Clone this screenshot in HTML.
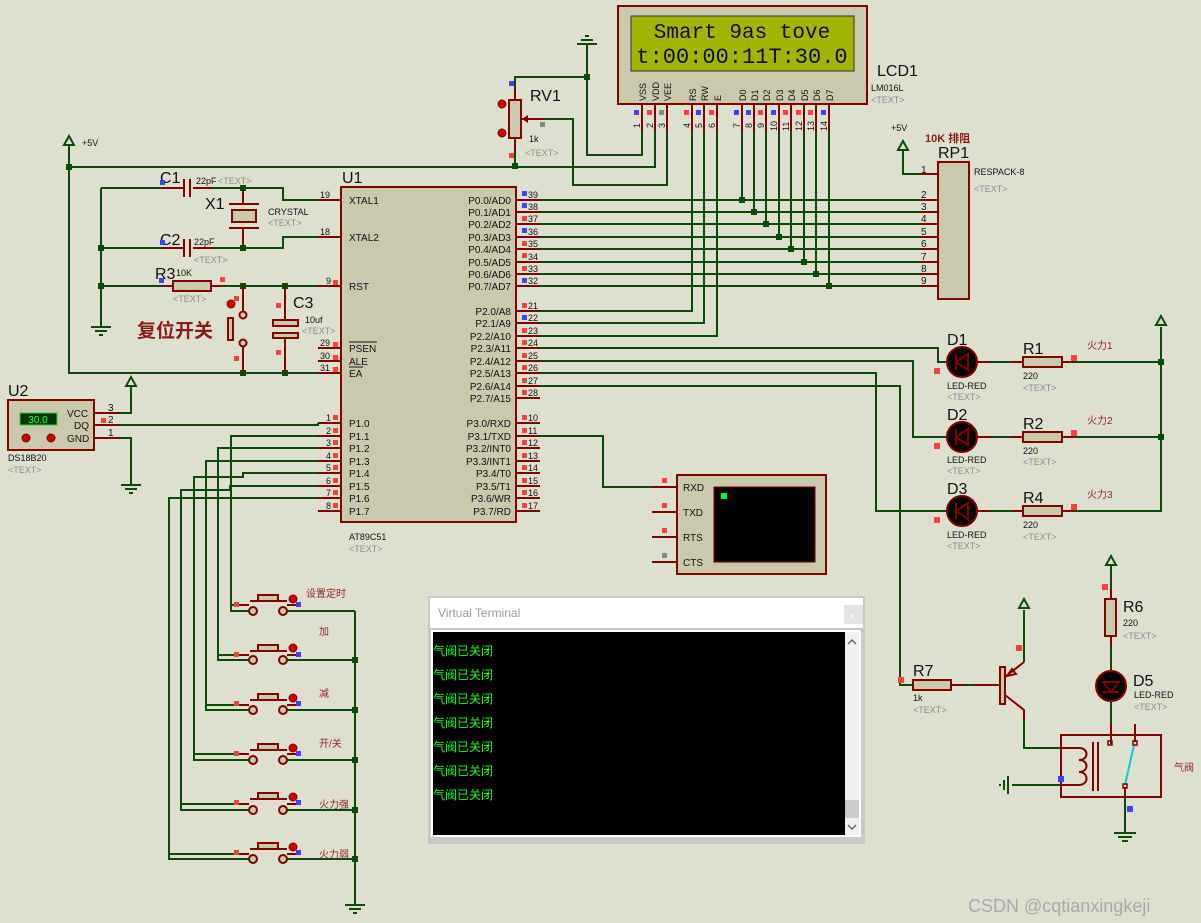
<!DOCTYPE html>
<html><head><meta charset="utf-8"><style>
html,body{margin:0;padding:0;background:#dfdfd0;}
svg{display:block;font-family:"Liberation Sans","Noto Sans CJK SC",sans-serif;}
.w{stroke:#0c4a0c;stroke-width:2;fill:none;}
.p{stroke:#800000;stroke-width:2;fill:none;}
.b{stroke:#800000;stroke-width:2;fill:#c9c9ad;}
.t{font-size:10px;fill:#111;}
.g{font-size:9px;fill:#8c8c8c;}
.L{font-size:16px;fill:#111;}
.n{font-size:10px;fill:#111;}
.cn{font-size:10px;fill:#8b2a2a;font-family:"Liberation Sans","Noto Sans CJK SC",sans-serif;}
.j{fill:#0c4a0c;}
.r{fill:#ff4040;}
.bl{fill:#4040ff;}
</style></head><body>
<svg width="1201" height="923" viewBox="0 0 1201 923" xmlns="http://www.w3.org/2000/svg">
<rect width="1201" height="923" fill="#dfdfd0"/>

<!-- LCD -->
<rect x="618" y="6" width="249" height="98" class="b"/>
<rect x="631" y="16" width="223" height="55" fill="#a3b400" stroke="#333" stroke-width="1"/>
<text x="742" y="38" font-family="Liberation Mono,monospace" font-size="21" text-anchor="middle" fill="#111">Smart 9as tove</text>
<text x="742" y="63" font-family="Liberation Mono,monospace" font-size="22" text-anchor="middle" fill="#111">t:00:00:11T:30.0</text>
<g font-size="9" fill="#111">
<text transform="translate(646,101) rotate(-90)">VSS</text>
<text transform="translate(659,101) rotate(-90)">VDD</text>
<text transform="translate(671,101) rotate(-90)">VEE</text>
<text transform="translate(696,101) rotate(-90)">RS</text>
<text transform="translate(708,101) rotate(-90)">RW</text>
<text transform="translate(721,101) rotate(-90)">E</text>
<text transform="translate(746,101) rotate(-90)">D0</text>
<text transform="translate(758,101) rotate(-90)">D1</text>
<text transform="translate(770,101) rotate(-90)">D2</text>
<text transform="translate(783,101) rotate(-90)">D3</text>
<text transform="translate(795,101) rotate(-90)">D4</text>
<text transform="translate(808,101) rotate(-90)">D5</text>
<text transform="translate(820,101) rotate(-90)">D6</text>
<text transform="translate(833,101) rotate(-90)">D7</text>
<text transform="translate(640,128) rotate(-90)">1</text>
<text transform="translate(653,128) rotate(-90)">2</text>
<text transform="translate(665,128) rotate(-90)">3</text>
<text transform="translate(690,128) rotate(-90)">4</text>
<text transform="translate(702,128) rotate(-90)">5</text>
<text transform="translate(715,128) rotate(-90)">6</text>
<text transform="translate(740,128) rotate(-90)">7</text>
<text transform="translate(752,128) rotate(-90)">8</text>
<text transform="translate(764,128) rotate(-90)">9</text>
<text transform="translate(777,131) rotate(-90)">10</text>
<text transform="translate(789,131) rotate(-90)">11</text>
<text transform="translate(802,131) rotate(-90)">12</text>
<text transform="translate(814,131) rotate(-90)">13</text>
<text transform="translate(827,131) rotate(-90)">14</text>
</g>
<path class="p" d="M642 104V131M655 104V131M667 104V131M692 104V131M704 104V131M717 104V131M742 104V131M754 104V131M766 104V131M779 104V131M791 104V131M804 104V131M816 104V131M829 104V131"/>
<g><rect x="634" y="110" width="5" height="5" class="bl"/><rect x="647" y="110" width="5" height="5" class="r"/><rect x="659" y="110" width="5" height="5" fill="#888"/><rect x="684" y="110" width="5" height="5" class="r"/><rect x="696" y="110" width="5" height="5" class="bl"/><rect x="709" y="110" width="5" height="5" class="r"/><rect x="734" y="110" width="5" height="5" class="bl"/><rect x="746" y="110" width="5" height="5" class="bl"/><rect x="758" y="110" width="5" height="5" class="r"/><rect x="771" y="110" width="5" height="5" class="bl"/><rect x="783" y="110" width="5" height="5" class="r"/><rect x="796" y="110" width="5" height="5" class="r"/><rect x="808" y="110" width="5" height="5" class="r"/><rect x="821" y="110" width="5" height="5" class="bl"/></g>
<text x="877" y="76" class="L">LCD1</text>
<text x="871" y="91" font-size="9" fill="#111">LM016L</text>
<text x="871" y="103" class="g">&lt;TEXT&gt;</text>

<!-- ground top -->
<path class="w" d="M587 77V44M577 44H597M581 40H593"/>
<path stroke="#0c4a0c" stroke-width="2" d="M585 36H589"/>

<!-- RV1 -->
<rect x="509" y="100" width="12" height="38" class="b"/>
<path class="p" d="M515 100V88M515 138V150M521 119H545"/>
<path fill="#800000" d="M522 119l6-4v8z"/>
<circle cx="502" cy="104" r="4" fill="#c00" stroke="#800"/><circle cx="502" cy="133" r="4" fill="#c00" stroke="#800"/>
<rect x="509" y="81" width="5" height="5" class="bl"/><rect x="509" y="153" width="5" height="5" class="r"/><rect x="540" y="122" width="5" height="5" fill="#888"/>
<text x="530" y="101" class="L">RV1</text>
<text x="529" y="142" font-size="9" fill="#111">1k</text>
<text x="525" y="156" class="g">&lt;TEXT&gt;</text>
<path class="w" d="M515 88V77H587M587 77V155H642V131M515 150V166M655 131V167H69M667 131V185H573V119H545"/>
<rect x="584" y="74" width="6" height="6" class="j"/><rect x="512" y="163" width="6" height="6" class="j"/>

<!-- LCD control wires -->
<path class="w" d="M692 131V311H540M704 131V323H540M717 131V336H540"/>
<!-- data bus -->
<path class="w" d="M540 200H920M540 212H920M540 224H920M540 237H920M540 249H920M540 262H920M540 274H920M540 286H920"/>
<path class="w" d="M742 131V200M754 131V212M766 131V224M779 131V237M791 131V249M804 131V262M816 131V274M829 131V286"/>
<g class="j"><rect x="739" y="197" width="6" height="6"/><rect x="751" y="209" width="6" height="6"/><rect x="763" y="221" width="6" height="6"/><rect x="776" y="234" width="6" height="6"/><rect x="788" y="246" width="6" height="6"/><rect x="801" y="259" width="6" height="6"/><rect x="813" y="271" width="6" height="6"/><rect x="826" y="283" width="6" height="6"/></g>

<!-- RP1 -->
<rect x="938" y="162" width="31" height="137" class="b"/>
<path class="p" d="M920 174H938M920 200H938M920 212H938M920 224H938M920 237H938M920 249H938M920 262H938M920 274H938M920 286H938"/>
<g font-size="10" fill="#111"><text x="921" y="173">1</text><text x="921" y="198">2</text><text x="921" y="210">3</text><text x="921" y="222">4</text><text x="921" y="235">5</text><text x="921" y="247">6</text><text x="921" y="260">7</text><text x="921" y="272">8</text><text x="921" y="284">9</text></g>
<path class="w" d="M903 151V174H920"/>
<path class="w" d="M903 141l-5 9h10z"/>
<text x="891" y="131" font-size="9" fill="#111">+5V</text>
<text x="925" y="142" font-size="11" font-weight="bold" fill="#8b1a1a">10K 排阻</text>
<text x="938" y="158" class="L">RP1</text>
<text x="974" y="175" font-size="9" fill="#111">RESPACK-8</text>
<text x="974" y="192" class="g">&lt;TEXT&gt;</text>

<!-- U1 -->
<rect x="341" y="187" width="175" height="335" class="b"/>
<text x="342" y="183" class="L">U1</text>
<text x="349" y="540" font-size="9" fill="#111">AT89C51</text>
<text x="349" y="552" class="g">&lt;TEXT&gt;</text>
<path class="p" d="M318 200H341M318 237H341M318 286H341M318 348H341M318 361H341M318 373H341M318 423H341M318 436H341M318 448H341M318 461H341M318 473H341M318 486H341M318 498H341M318 511H341"/>
<path class="p" d="M516 200H540M516 212H540M516 224H540M516 237H540M516 249H540M516 262H540M516 274H540M516 286H540M516 311H540M516 323H540M516 336H540M516 348H540M516 361H540M516 373H540M516 386H540M516 398H540M516 423H540M516 436H540M516 448H540M516 461H540M516 473H540M516 486H540M516 498H540M516 511H540"/>
<g class="n">
<text x="349" y="204">XTAL1</text><text x="349" y="241">XTAL2</text><text x="349" y="290">RST</text>
<text x="349" y="352">PSEN</text><text x="349" y="365">ALE</text><text x="349" y="377">EA</text>
<text x="349" y="427">P1.0</text><text x="349" y="440">P1.1</text><text x="349" y="452">P1.2</text><text x="349" y="465">P1.3</text><text x="349" y="477">P1.4</text><text x="349" y="490">P1.5</text><text x="349" y="502">P1.6</text><text x="349" y="515">P1.7</text>
</g>
<path stroke="#111" stroke-width="1" d="M349 342H377M349 367H363"/>
<g class="n" text-anchor="end">
<text x="511" y="204">P0.0/AD0</text><text x="511" y="216">P0.1/AD1</text><text x="511" y="228">P0.2/AD2</text><text x="511" y="241">P0.3/AD3</text><text x="511" y="253">P0.4/AD4</text><text x="511" y="266">P0.5/AD5</text><text x="511" y="278">P0.6/AD6</text><text x="511" y="290">P0.7/AD7</text>
<text x="511" y="315">P2.0/A8</text><text x="511" y="327">P2.1/A9</text><text x="511" y="340">P2.2/A10</text><text x="511" y="352">P2.3/A11</text><text x="511" y="365">P2.4/A12</text><text x="511" y="377">P2.5/A13</text><text x="511" y="390">P2.6/A14</text><text x="511" y="402">P2.7/A15</text>
<text x="511" y="427">P3.0/RXD</text><text x="511" y="440">P3.1/TXD</text><text x="511" y="452">P3.2/INT0</text><text x="511" y="465">P3.3/INT1</text><text x="511" y="477">P3.4/T0</text><text x="511" y="490">P3.5/T1</text><text x="511" y="502">P3.6/WR</text><text x="511" y="515">P3.7/RD</text>
</g>
<g font-size="9" fill="#111">
<text x="528" y="198">39</text><text x="528" y="210">38</text><text x="528" y="222">37</text><text x="528" y="235">36</text><text x="528" y="247">35</text><text x="528" y="260">34</text><text x="528" y="272">33</text><text x="528" y="284">32</text>
<text x="528" y="309">21</text><text x="528" y="321">22</text><text x="528" y="334">23</text><text x="528" y="346">24</text><text x="528" y="359">25</text><text x="528" y="371">26</text><text x="528" y="384">27</text><text x="528" y="396">28</text>
<text x="528" y="421">10</text><text x="528" y="434">11</text><text x="528" y="446">12</text><text x="528" y="459">13</text><text x="528" y="471">14</text><text x="528" y="484">15</text><text x="528" y="496">16</text><text x="528" y="509">17</text>
<text x="320" y="198">19</text><text x="320" y="235">18</text><text x="326" y="284">9</text><text x="320" y="346">29</text><text x="320" y="359">30</text><text x="320" y="371">31</text>
<text x="326" y="421">1</text><text x="326" y="434">2</text><text x="326" y="446">3</text><text x="326" y="459">4</text><text x="326" y="471">5</text><text x="326" y="484">6</text><text x="326" y="496">7</text><text x="326" y="509">8</text>
</g>
<g class="r"><rect x="522" y="191" width="5" height="5" fill="#44f"/><rect x="522" y="203" width="5" height="5" fill="#44f"/><rect x="522" y="216" width="5" height="5"/><rect x="522" y="228" width="5" height="5" fill="#44f"/><rect x="522" y="241" width="5" height="5"/><rect x="522" y="253" width="5" height="5"/><rect x="522" y="266" width="5" height="5"/><rect x="522" y="278" width="5" height="5" fill="#44f"/>
<rect x="522" y="303" width="5" height="5"/><rect x="522" y="315" width="5" height="5" fill="#44f"/><rect x="522" y="328" width="5" height="5"/><rect x="522" y="340" width="5" height="5"/><rect x="522" y="353" width="5" height="5"/><rect x="522" y="365" width="5" height="5"/><rect x="522" y="378" width="5" height="5"/><rect x="522" y="390" width="5" height="5"/>
<rect x="522" y="415" width="5" height="5"/><rect x="522" y="428" width="5" height="5"/><rect x="522" y="440" width="5" height="5"/><rect x="522" y="453" width="5" height="5"/><rect x="522" y="465" width="5" height="5"/><rect x="522" y="478" width="5" height="5"/><rect x="522" y="490" width="5" height="5"/><rect x="522" y="503" width="5" height="5"/>
<rect x="333" y="280" width="5" height="5"/><rect x="333" y="342" width="5" height="5"/><rect x="333" y="355" width="5" height="5"/><rect x="333" y="367" width="5" height="5"/>
<rect x="333" y="415" width="5" height="5"/><rect x="333" y="428" width="5" height="5"/><rect x="333" y="440" width="5" height="5"/><rect x="333" y="453" width="5" height="5"/><rect x="333" y="465" width="5" height="5"/><rect x="333" y="478" width="5" height="5"/><rect x="333" y="490" width="5" height="5"/><rect x="333" y="503" width="5" height="5"/></g>

<!-- left power / osc / reset -->
<path class="w" d="M69 145V373H318"/>
<path class="w" d="M69 136l-5 9h10z"/>
<text x="82" y="146" font-size="9" fill="#111">+5V</text>
<rect x="66" y="164" width="6" height="6" class="j"/>
<path class="w" d="M101 188V327M91 327H111M95 331H107M99 335H103"/>
<path class="w" d="M101 188H162M193 188H283V200H318M101 248H162M193 248H283V237H318M101 286H162M222 286H318"/>
<path class="p" d="M162 188H184M193 188H213M184 179V197M190 179V197M162 248H184M193 248H213M184 239V257M190 239V257"/>
<path class="p" d="M243 188V204M229 204H259M229 228H259M243 228V248"/>
<rect x="232" y="210" width="24" height="12" class="b"/>
<rect x="173" y="281" width="38" height="10" class="b"/>
<path class="p" d="M162 286H173M211 286H222"/>
<g class="j"><rect x="240" y="185" width="6" height="6"/><rect x="240" y="245" width="6" height="6"/><rect x="98" y="245" width="6" height="6"/><rect x="98" y="283" width="6" height="6"/><rect x="240" y="283" width="6" height="6"/><rect x="282" y="283" width="6" height="6"/><rect x="240" y="370" width="6" height="6"/><rect x="282" y="370" width="6" height="6"/></g>
<!-- reset switch -->
<path class="p" d="M243 286V312M243 346V373"/>
<circle cx="243" cy="315" r="3.5" fill="#c9c9ad" stroke="#800000" stroke-width="2"/>
<circle cx="243" cy="343" r="3.5" fill="#c9c9ad" stroke="#800000" stroke-width="2"/>
<rect x="228" y="318" width="5" height="22" class="b"/>
<circle cx="231" cy="304" r="4" fill="#c00" stroke="#800"/>
<rect x="234" y="296" width="5" height="5" class="r"/><rect x="234" y="356" width="5" height="5" class="r"/>
<text x="137" y="337" font-size="19" font-weight="bold" fill="#8b1a1a">复位开关</text>
<!-- C3 -->
<path class="p" d="M285 286V320M285 338V373"/>
<rect x="273" y="320" width="25" height="6" fill="#c9c9ad" stroke="#800000" stroke-width="2"/>
<rect x="273" y="333" width="25" height="5" fill="#c9c9ad" stroke="#800000" stroke-width="2"/>
<rect x="276" y="303" width="5" height="5" class="r"/><rect x="276" y="350" width="5" height="5" class="r"/>
<text x="293" y="308" class="L">C3</text><text x="305" y="323" font-size="9" fill="#111">10uf</text><text x="302" y="334" class="g">&lt;TEXT&gt;</text>
<!-- labels -->
<text x="160" y="183" class="L">C1</text><text x="196" y="184" font-size="9" fill="#111">22pF</text><text x="218" y="184" class="g">&lt;TEXT&gt;</text>
<text x="205" y="209" class="L">X1</text><text x="268" y="215" font-size="9" fill="#111">CRYSTAL</text><text x="268" y="226" class="g">&lt;TEXT&gt;</text>
<text x="160" y="245" class="L">C2</text><text x="194" y="245" font-size="9" fill="#111">22pF</text><text x="194" y="263" class="g">&lt;TEXT&gt;</text>
<text x="155" y="279" class="L">R3</text><text x="176" y="276" font-size="9" fill="#111">10K</text><text x="173" y="302" class="g">&lt;TEXT&gt;</text>
<rect x="160" y="180" width="5" height="5" class="bl"/><rect x="160" y="240" width="5" height="5" class="bl"/><rect x="159" y="278" width="5" height="5" class="bl"/><rect x="220" y="277" width="5" height="5" class="r"/>

<!-- U2 -->
<rect x="8" y="400" width="86" height="50" class="b"/>
<rect x="20" y="413" width="37" height="12" fill="#063806" stroke="#3c3" stroke-width="1"/>
<text x="38" y="423" font-size="10" fill="#3f3" text-anchor="middle">30.0</text>
<circle cx="26" cy="438" r="4" fill="#c00" stroke="#800"/><circle cx="51" cy="438" r="4" fill="#c00" stroke="#800"/>
<g font-size="10" fill="#111"><text x="67" y="417">VCC</text><text x="74" y="429">DQ</text><text x="67" y="442">GND</text>
<text x="108" y="411">3</text><text x="108" y="423">2</text><text x="108" y="436">1</text></g>
<path class="p" d="M94 413H120M94 425H120M94 438H120"/>
<rect x="101" y="418" width="5" height="5" class="r"/>
<text x="8" y="396" class="L">U2</text>
<text x="8" y="461" font-size="9" fill="#111">DS18B20</text><text x="8" y="473" class="g">&lt;TEXT&gt;</text>
<path class="w" d="M120 413H131V386M120 425H318V423M120 438H131V485M121 485H141M125 489H137M129 493H133"/>
<path class="w" d="M131 377l-5 9h10z"/>

<!-- P1 wires -->
<path class="w" d="M318 436H231V605H240M318 448H218V655H240M318 461H206V705H240M318 473H243V477H194V754H240M318 486H230V490H181V804H240M318 498H169V854H240"/>
<!-- buttons -->
<path class="p" d="M240 605H249M287 605H298M240 655H249M287 655H298M240 705H249M287 705H298M240 754H249M287 754H298M240 804H249M287 804H298M240 854H249M287 854H298"/>
<g fill="#c9c9ad" stroke="#800000" stroke-width="2">
<circle cx="253" cy="611" r="4"/><circle cx="283" cy="611" r="4"/>
<circle cx="253" cy="660" r="4"/><circle cx="283" cy="660" r="4"/>
<circle cx="253" cy="710" r="4"/><circle cx="283" cy="710" r="4"/>
<circle cx="253" cy="760" r="4"/><circle cx="283" cy="760" r="4"/>
<circle cx="253" cy="810" r="4"/><circle cx="283" cy="810" r="4"/>
<circle cx="253" cy="859" r="4"/><circle cx="283" cy="859" r="4"/>
<rect x="258" y="595" width="20" height="6"/><rect x="258" y="645" width="20" height="6"/><rect x="258" y="694" width="20" height="6"/><rect x="258" y="744" width="20" height="6"/><rect x="258" y="793" width="20" height="6"/><rect x="258" y="843" width="20" height="6"/>
</g>
<path class="p" d="M250 601H287M250 651H287M250 700H287M250 750H287M250 799H287M250 849H287"/>
<path class="w" d="M231 605V611H249M218 655V660H249M206 705V710H249M194 754V760H249M181 804V810H249M169 854V859H249M287 611H355M287 660H355M287 710H355M287 760H355M287 810H355M287 859H355M355 611V905M345 905H365M349 909H361M353 913H357"/>
<g class="j"><rect x="352" y="657" width="6" height="6"/><rect x="352" y="707" width="6" height="6"/><rect x="352" y="757" width="6" height="6"/><rect x="352" y="807" width="6" height="6"/><rect x="352" y="856" width="6" height="6"/></g>
<g fill="#c00" stroke="#800"><circle cx="293" cy="599" r="4"/><circle cx="293" cy="648" r="4"/><circle cx="293" cy="698" r="4"/><circle cx="293" cy="748" r="4"/><circle cx="293" cy="797" r="4"/><circle cx="293" cy="847" r="4"/></g>
<g class="bl"><rect x="296" y="602" width="5" height="5"/><rect x="296" y="652" width="5" height="5"/><rect x="296" y="701" width="5" height="5"/><rect x="296" y="751" width="5" height="5"/><rect x="296" y="800" width="5" height="5"/><rect x="296" y="850" width="5" height="5"/></g>
<g class="r"><rect x="234" y="602" width="5" height="5"/><rect x="234" y="652" width="5" height="5"/><rect x="234" y="701" width="5" height="5"/><rect x="234" y="751" width="5" height="5"/><rect x="234" y="800" width="5" height="5"/><rect x="234" y="850" width="5" height="5"/></g>
<g class="cn"><text x="306" y="597">设置定时</text><text x="319" y="635">加</text><text x="319" y="697">减</text><text x="319" y="747">开/关</text><text x="319" y="808">火力强</text><text x="319" y="858">火力弱</text></g>

<!-- virtual terminal device -->
<path class="w" d="M540 436H603V487H652"/>
<path class="p" d="M652 487H677M652 512H677M652 537H677M652 562H677"/>
<rect x="677" y="475" width="149" height="99" class="b"/>
<rect x="714" y="487" width="101" height="75" fill="#000" stroke="#800000" stroke-width="1"/>
<rect x="721" y="493" width="6" height="6" fill="#0f0"/>
<g font-size="10" fill="#111"><text x="683" y="491">RXD</text><text x="683" y="516">TXD</text><text x="683" y="541">RTS</text><text x="683" y="566">CTS</text></g>
<g class="r"><rect x="662" y="478" width="5" height="5"/><rect x="662" y="503" width="5" height="5"/><rect x="662" y="528" width="5" height="5"/><rect x="662" y="553" width="5" height="5" fill="#888"/></g>

<!-- LEDs -->
<path class="w" d="M540 348H938V362H947M540 361H913V437H947M540 373H876V511H947M540 386H900V685H913"/>
<g>
<circle cx="962" cy="362" r="15" fill="#000" stroke="#800000" stroke-width="2"/>
<circle cx="962" cy="437" r="15" fill="#000" stroke="#800000" stroke-width="2"/>
<circle cx="962" cy="511" r="15" fill="#000" stroke="#800000" stroke-width="2"/>
<path stroke="#800000" stroke-width="2" fill="none" d="M968 354L956 362L968 370ZM956 354V370M968 429L956 437L968 445ZM956 429V445M968 503L956 511L968 519ZM956 503V519"/>
</g>
<path class="p" d="M977 362H1023M1062 362H1074M977 437H1023M1062 437H1074M977 511H1023M1062 511H1074"/>
<path class="w" d="M990 362H1012M990 437H1012M990 511H1012M1074 362H1161M1074 437H1161M1074 511H1161V327"/>
<path class="w" d="M1161 316l-5 9h10z"/>
<rect x="1023" y="357" width="39" height="10" class="b"/><rect x="1023" y="432" width="39" height="10" class="b"/><rect x="1023" y="506" width="39" height="10" class="b"/>
<g class="j"><rect x="1158" y="359" width="6" height="6"/><rect x="1158" y="434" width="6" height="6"/></g>
<g class="r"><rect x="934" y="368" width="6" height="6"/><rect x="934" y="443" width="6" height="6"/><rect x="934" y="517" width="6" height="6"/><rect x="1071" y="355" width="6" height="6"/><rect x="1071" y="430" width="6" height="6"/><rect x="1071" y="504" width="6" height="6"/></g>
<text x="947" y="345" class="L">D1</text><text x="947" y="389" font-size="9" fill="#111">LED-RED</text><text x="947" y="400" class="g">&lt;TEXT&gt;</text>
<text x="947" y="420" class="L">D2</text><text x="947" y="463" font-size="9" fill="#111">LED-RED</text><text x="947" y="474" class="g">&lt;TEXT&gt;</text>
<text x="947" y="494" class="L">D3</text><text x="947" y="538" font-size="9" fill="#111">LED-RED</text><text x="947" y="549" class="g">&lt;TEXT&gt;</text>
<text x="1023" y="354" class="L">R1</text><text x="1023" y="379" font-size="9" fill="#111">220</text><text x="1023" y="391" class="g">&lt;TEXT&gt;</text>
<text x="1023" y="429" class="L">R2</text><text x="1023" y="454" font-size="9" fill="#111">220</text><text x="1023" y="465" class="g">&lt;TEXT&gt;</text>
<text x="1023" y="503" class="L">R4</text><text x="1023" y="528" font-size="9" fill="#111">220</text><text x="1023" y="540" class="g">&lt;TEXT&gt;</text>
<g class="cn"><text x="1087" y="349">火力1</text><text x="1087" y="424">火力2</text><text x="1087" y="498">火力3</text></g>

<!-- transistor / relay -->
<rect x="913" y="680" width="38" height="10" class="b"/>
<path class="p" d="M951 685H1000"/>
<path class="w" d="M966 685H974"/>
<rect x="1000" y="667" width="5" height="37" class="b"/>
<path class="p" d="M1005 677L1024 662M1005 695L1024 710V720"/>
<path fill="none" stroke="#800000" stroke-width="2" d="M1007 676l5-7 4 5z"/>
<path class="w" d="M1024 662V610M1024 720V748H1061M1061 785H1012M1004 780V790M1008 776V794M1000 784V786"/>
<path class="w" d="M1024 599l-5 9h10z"/>
<rect x="1016" y="645" width="6" height="6" class="r"/><rect x="898" y="677" width="6" height="6" class="r"/>
<text x="913" y="676" class="L">R7</text><text x="913" y="701" font-size="9" fill="#111">1k</text><text x="913" y="713" class="g">&lt;TEXT&gt;</text>
<path class="w" d="M1111 566V589M1111 646V670M1111 702V724"/>
<path class="w" d="M1111 556l-5 9h10z"/>
<rect x="1105" y="599" width="11" height="37" class="b"/>
<path class="p" d="M1111 589V599M1111 636V646M1111 724V744"/>
<circle cx="1111" cy="686" r="15" fill="#000" stroke="#800000" stroke-width="2"/>
<path stroke="#800000" stroke-width="2" fill="none" d="M1103 682H1119L1111 692ZM1103 692H1119"/>
<rect x="1102" y="584" width="6" height="6" class="r"/>
<text x="1123" y="612" class="L">R6</text><text x="1123" y="626" font-size="9" fill="#111">220</text><text x="1123" y="639" class="g">&lt;TEXT&gt;</text>
<text x="1133" y="686" class="L">D5</text>
<text x="1134" y="698" font-size="9" fill="#111">LED-RED</text><text x="1134" y="710" class="g">&lt;TEXT&gt;</text>
<rect x="1061" y="735" width="100" height="62" fill="none" stroke="#800000" stroke-width="2"/>
<path class="p" d="M1061 748H1079M1061 785H1079M1079 748c10 0 10 12 0 12c10 0 10 12 0 12c10 0 10 13 0 13M1093 742V791M1098 742V791M1135 724V742M1125 787V797"/>
<path stroke="#1cc" stroke-width="2" d="M1134 745L1125 785"/>
<rect x="1108" y="741" width="4" height="4" fill="none" stroke="#800000" stroke-width="1.5"/>
<rect x="1133" y="741" width="4" height="4" fill="none" stroke="#800000" stroke-width="1.5"/>
<rect x="1123" y="784" width="4" height="4" fill="none" stroke="#800000" stroke-width="1.5"/>
<path class="w" d="M1125 797V833M1114 833H1136M1118 837H1132M1122 841H1128"/>
<rect x="1058" y="776" width="6" height="6" class="bl"/><rect x="1127" y="806" width="6" height="6" class="bl"/>
<text x="1174" y="771" class="cn">气阀</text>

<!-- Virtual Terminal window -->
<rect x="428" y="596" width="437" height="248" fill="#c8c8c8"/>
<rect x="430" y="598" width="433" height="30" fill="#fff"/>
<text x="438" y="617" font-size="12" fill="#999">Virtual Terminal</text>
<rect x="844" y="605" width="19" height="19" fill="#e3e3e3"/>
<text x="850" y="619" font-size="9" fill="#fff">x</text>
<rect x="431" y="630" width="430" height="207" fill="#fff"/>
<rect x="433" y="632" width="412" height="203" fill="#000"/>
<rect x="845" y="632" width="14" height="203" fill="#f0f0f0"/>
<rect x="845" y="800" width="14" height="18" fill="#cdcdcd"/>
<path stroke="#666" stroke-width="1.5" fill="none" d="M848 644l4-4 4 4M848 825l4 4 4-4"/>
<g font-size="12" fill="#1f1" font-family="'WenQuanYi Zen Hei','Noto Sans CJK SC',sans-serif">
<text x="433" y="655">气阀已关闭</text><text x="433" y="679">气阀已关闭</text><text x="433" y="703">气阀已关闭</text><text x="433" y="727">气阀已关闭</text><text x="433" y="751">气阀已关闭</text><text x="433" y="775">气阀已关闭</text><text x="433" y="799">气阀已关闭</text>
</g>

<text x="968" y="912" font-size="18" fill="#a8a8a8">CSDN @cqtianxingkeji</text>
</svg>
</body></html>
